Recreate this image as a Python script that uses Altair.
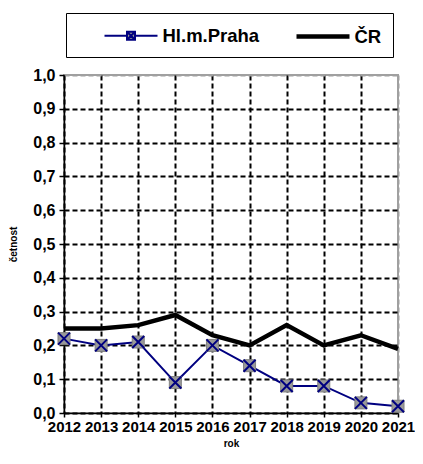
import altair as alt
import pandas as pd

years = [2012, 2013, 2014, 2015, 2016, 2017, 2018, 2019, 2020, 2021]
praha = [0.22, 0.20, 0.21, 0.09, 0.20, 0.14, 0.08, 0.08, 0.03, 0.02]
cr = [0.25, 0.25, 0.26, 0.29, 0.23, 0.20, 0.26, 0.20, 0.23, 0.19]
series_names = ["Hl.m.Praha", "ČR"]
y_ticks = [0.0, 0.1, 0.2, 0.3, 0.4, 0.5, 0.6, 0.7, 0.8, 0.9, 1.0]

df = pd.DataFrame({
    "rok": years + years,
    "cetnost": praha + cr,
    "serie": [series_names[0]] * len(years) + [series_names[1]] * len(years),
})

FONT = "Liberation Sans"
NAVY = "#000080"

x_enc = alt.X(
    "rok:Q",
    scale=alt.Scale(domain=[years[0], years[-1]], nice=False, zero=False),
    axis=alt.Axis(
        values=years, format="d", title="rok",
        titleFontSize=10, titlePadding=4, labelFontSize=15,
        tickSize=4, labelPadding=2, labelOverlap=False, labelFlush=False,
        gridColor={"condition": {"test": "datum.value >= 2021", "value": "#a0a0a0"}, "value": "#000000"},
    ),
)
y_enc = alt.Y(
    "cetnost:Q",
    scale=alt.Scale(domain=[0, 1], nice=False),
    axis=alt.Axis(
        values=y_ticks, title="četnost",
        labelExpr="replace(format(datum.value, '.1f'), '.', ',')",
        titleFontSize=10, titleX=-46, titleY=169,
        tickSize=5, labelPadding=4, labelOverlap=False, labelFlush=False,
        gridColor={"condition": {"test": "datum.value >= 1", "value": "#a0a0a0"}, "value": "#000000"},
    ),
)

praha_path = ("M-2.65,0H-0.4M0.4,0H2.65M-0.4,-0.4H0.4V0.4H-0.4Z"
              "M-0.4,-0.4L0.4,0.4M-0.4,0.4L0.4,-0.4")
cr_path = "M-2.65,0H2.65"

legend = alt.Legend(
    title=None, orient="none", legendX=2, legendY=-62,
    direction="horizontal", columns=2,
    padding=11, strokeColor="#000000", fillColor="#ffffff",
    labelFont=FONT, labelFontSize=18.5, labelFontWeight="bold", labelColor="#000000",
    symbolSize=400, symbolOffset=41.5, labelOffset=19, columnPadding=9,
    symbolOpacity=1,
)

line_cr = alt.Chart(df).transform_filter(
    alt.datum.serie == series_names[1]
).mark_line(color="#000000", strokeWidth=4.5).encode(x=x_enc, y=y_enc, order="rok:Q")

line_praha = alt.Chart(df).transform_filter(
    alt.datum.serie == series_names[0]
).mark_line(color=NAVY, strokeWidth=2).encode(x=x_enc, y=y_enc, order="rok:Q")

squares = alt.Chart(df).transform_filter(
    alt.datum.serie == series_names[0]
).mark_point(
    shape="square", filled=True, fill="#999999", stroke="#808080", strokeWidth=1, size=144, opacity=1
).encode(x=x_enc, y=y_enc)

crosses = alt.Chart(df).transform_filter(
    alt.datum.serie == series_names[0]
).mark_point(
    shape="M-1,-1L1,1M-1,1L1,-1", filled=False, stroke=NAVY, strokeWidth=2, size=144, opacity=1
).encode(x=x_enc, y=y_enc)

legend_layer = alt.Chart(df).transform_filter("false").mark_point(filled=True, opacity=1).encode(
    fill=alt.Fill("serie:N", scale=alt.Scale(domain=series_names, range=["#999999", "transparent"]), legend=legend),
    stroke=alt.Stroke("serie:N", scale=alt.Scale(domain=series_names, range=[NAVY, "#000000"]), legend=legend),
    shape=alt.Shape("serie:N", scale=alt.Scale(domain=series_names, range=[praha_path, cr_path]), legend=legend),
    strokeWidth=alt.StrokeWidth("serie:N", scale=alt.Scale(domain=series_names, range=[2, 4.5]), legend=legend),
)

chart = alt.layer(line_cr, line_praha, squares, crosses, legend_layer).properties(
    width=334, height=338,
    autosize=alt.AutoSizeParams(type="none"),
    padding={"left": 56, "top": 67, "right": 17, "bottom": 37},
    background="#ffffff",
).configure_view(
    stroke="#a0a0a0", strokeWidth=2,
).configure_axis(
    labelFont=FONT, labelFontSize=16, labelFontWeight="bold", labelColor="#000000",
    titleFont=FONT, titleFontWeight="bold", titleColor="#000000",
    domainColor="#000000", domainWidth=1.5,
    tickColor="#000000", tickWidth=1.5,
    grid=True, gridDash=[5, 3], gridWidth=2,
)

chart.save("out.html", embed_options={"renderer": "svg", "actions": False})
